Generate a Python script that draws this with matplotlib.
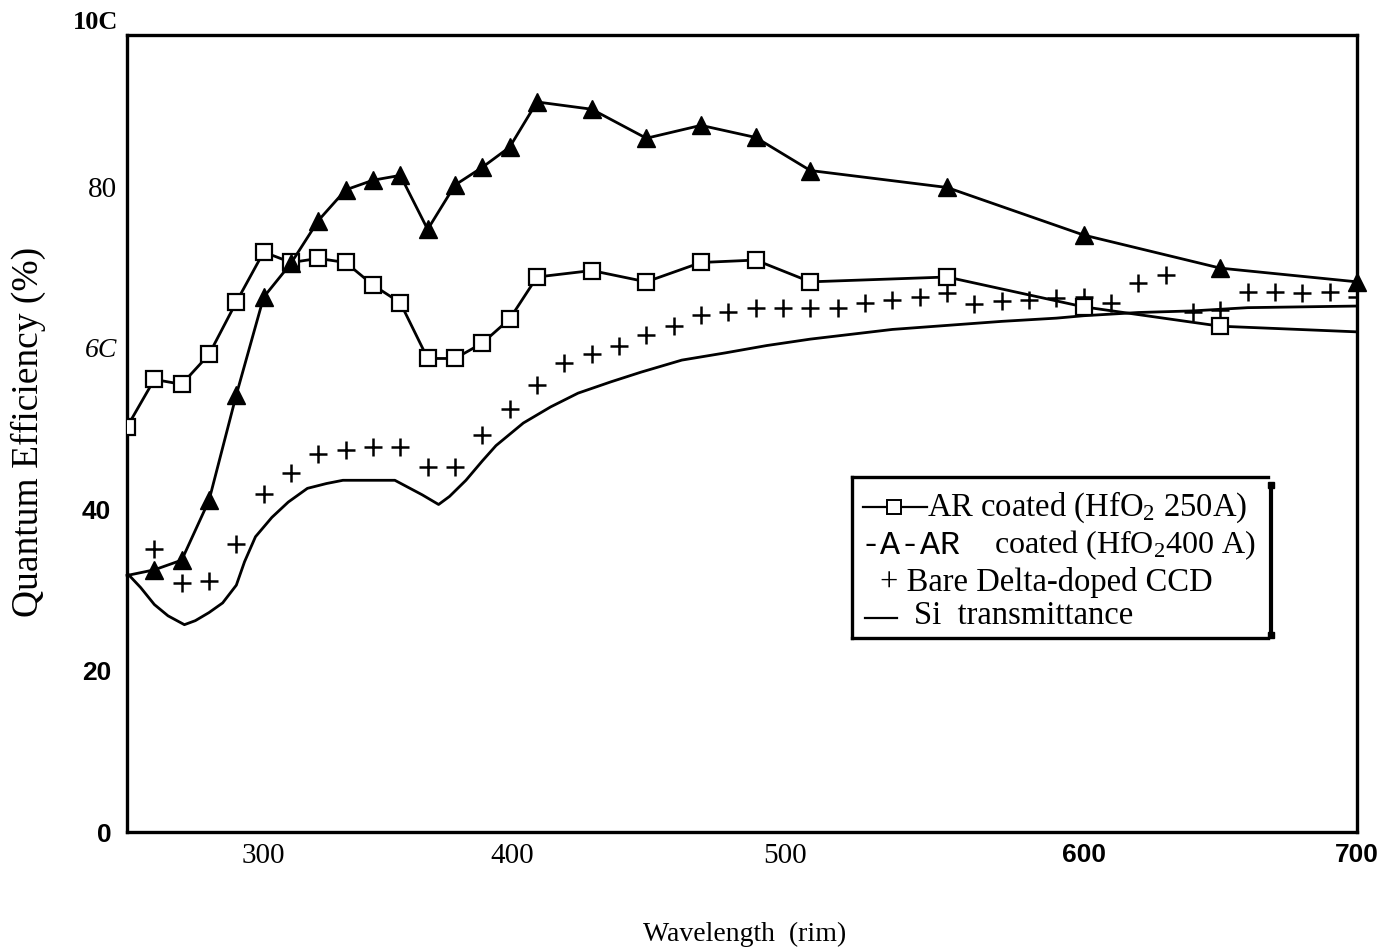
import matplotlib
matplotlib.use("Agg")
import matplotlib.pyplot as plt
import matplotlib.transforms as mtransforms
from matplotlib.lines import Line2D
from matplotlib.font_manager import FontProperties

# ---------------- data ----------------
wl_ar250 = [250, 260, 270, 280, 290, 300, 310, 320, 330, 340, 350, 360, 370, 380, 390,
            400, 420, 440, 460, 480, 500, 550, 600, 650, 700]
qe_ar250 = [50.2, 56.1, 55.5, 59.2, 65.7, 71.9, 70.6, 71.1, 70.6, 67.8, 65.6, 58.7, 58.7, 60.6, 63.6,
            68.8, 69.6, 68.2, 70.6, 70.9, 68.2, 68.8, 65.1, 62.7, 62.0]

wl_ar400 = [250, 260, 270, 280, 290, 300, 310, 320, 330, 340, 350, 360, 370, 380, 390,
            400, 420, 440, 460, 480, 500, 550, 600, 650, 700]
qe_ar400 = [31.8, 32.5, 33.7, 41.1, 54.2, 66.3, 70.5, 75.8, 79.6, 80.8, 81.4, 74.7, 80.2, 82.4, 84.9,
            90.5, 89.6, 86.0, 87.6, 86.1, 82.0, 79.9, 74.0, 69.9, 68.2]

wl_bare = [260, 270, 280, 290, 300, 310, 320, 330, 340, 350,
           360, 370, 380, 390, 400, 410, 420, 430, 440, 450,
           460, 470, 480, 490, 500, 510, 520, 530, 540, 550,
           560, 570, 580, 590, 600, 610, 620, 630, 640, 650,
           660, 670, 680, 690, 700]
qe_bare = [35.1, 30.9, 31.1, 35.7, 41.9, 44.5, 46.8, 47.3, 47.7, 47.7,
           45.3, 45.3, 49.2, 52.4, 55.4, 58.2, 59.2, 60.2, 61.6, 62.7,
           64.1, 64.4, 64.9, 64.9, 64.9, 64.9, 65.6, 65.9, 66.3, 66.8,
           65.5, 65.8, 66.0, 66.2, 66.3, 65.6, 68.0, 69.0, 64.4, 64.7,
           66.9, 66.9, 66.8, 66.9, 66.3]

wl_si = [250, 255, 260, 265, 271, 275, 280, 285, 290, 293, 297, 303, 309, 316, 323, 329,
         340, 348, 353, 358, 364, 368, 374, 380, 385, 395, 405, 415, 427, 438, 453, 469,
         484, 500, 515, 530, 550, 570, 590, 600, 620, 640, 660, 680, 700]
qe_si = [32.1, 30.3, 28.2, 26.8, 25.7, 26.2, 27.2, 28.4, 30.6, 33.5, 36.6, 39.0, 40.9, 42.6, 43.2, 43.6,
         43.6, 43.6, 42.7, 41.8, 40.6, 41.6, 43.6, 46.0, 47.9, 50.7, 52.7, 54.4, 55.8, 57.0, 58.5, 59.4,
         60.3, 61.1, 61.7, 62.3, 62.8, 63.3, 63.7, 64.0, 64.4, 64.6, 65.0, 65.1, 65.2]

xtick_vals = [300, 400, 500, 600, 700]
xtick_labels = ["300", "400", "500", "600", "700"]
ytick_vals = [0, 20, 40, 60, 80]
ytick_labels = ["0", "20", "40", "6C", "80"]
ytop_label = "10C"

legend_labels = ["AR coated (HfO$_2$ 250A)", "-A-AR", "coated (HfO$_2$400 A)",
                 "+ Bare Delta-doped CCD", "Si  transmittance"]

# ---------------- style ----------------
plt.rcParams['font.family'] = ['Liberation Serif', 'DejaVu Serif']
plt.rcParams['mathtext.fontset'] = 'custom'
plt.rcParams['mathtext.rm'] = 'Liberation Serif'
plt.rcParams['mathtext.default'] = 'regular'

W, H = 1379, 951
fig = plt.figure(figsize=(W / 100, H / 100), dpi=100)
fig.patch.set_facecolor('white')

def F(px, py):
    return (px / W, 1 - py / H)

ax = fig.add_axes([127 / W, 1 - 832 / H, (1357 - 127) / W, (832 - 35) / H])
ax.set_xlim(250, 700)
ax.set_ylim(0, 98.8)

# series
ax.plot(wl_si, qe_si, color='black', lw=2.0, zorder=2)
ax.plot(wl_bare, qe_bare, linestyle='none', marker='+', markersize=13,
        markeredgewidth=1.8, color='black', zorder=3)
ax.plot(wl_ar250, qe_ar250, color='black', lw=2.0, marker='s', markersize=11,
        markerfacecolor='white', markeredgecolor='black', markeredgewidth=1.6,
        markevery=list(range(0, len(wl_ar250) - 1)), zorder=4)
ax.plot(wl_ar400, qe_ar400, color='black', lw=2.0, marker='^', markersize=13,
        markerfacecolor='black', markeredgecolor='black',
        markevery=list(range(1, len(wl_ar400))), zorder=5, clip_on=False)

for s in ax.spines.values():
    s.set_linewidth(2.4)
    s.set_color('black')

# ticks
ax.tick_params(axis='both', length=0)
ax.tick_params(axis='x', pad=8)
ax.tick_params(axis='y', pad=7)
ax.set_xticks(xtick_vals, xtick_labels)
ax.set_yticks(ytick_vals, ytick_labels)

narrow_bold = dict(family=['Liberation Sans Narrow', 'Liberation Sans'], weight='bold', size=19)
for lab, txt in zip(ax.get_xticklabels(), xtick_labels):
    if txt in ("600", "700"):
        lab.set_fontproperties(FontProperties(**narrow_bold))
    else:
        lab.set_fontproperties(FontProperties(family='Liberation Serif', size=21))
    if txt in ("400", "500"):
        lab.set_transform(lab.get_transform() +
                          mtransforms.ScaledTranslation(-25 / 100, 0, fig.dpi_scale_trans))

for lab, txt in zip(ax.get_yticklabels(), ytick_labels):
    if txt in ("0", "20", "40"):
        lab.set_fontproperties(FontProperties(**narrow_bold))
        lab.set_transform(lab.get_transform() +
                          mtransforms.ScaledTranslation(-6 / 100, 0, fig.dpi_scale_trans))
    elif txt == "6C":
        lab.set_fontproperties(FontProperties(family='Liberation Serif', style='italic', size=20))
    else:
        lab.set_fontproperties(FontProperties(family='Liberation Serif', size=21))

trans_y = mtransforms.blended_transform_factory(ax.transAxes, ax.transData)
ax.text(-0.007, 100.4, ytop_label, transform=trans_y, ha='right', va='center',
        fontsize=19, fontweight='bold', family='Liberation Serif', clip_on=False)

# axis titles
fig.text(*F(28, 432), "Quantum Efficiency (%)", rotation=90, ha='center', va='center',
         fontsize=27, family='Liberation Serif')
fig.text(*F(745, 934), "Wavelength  (rim)", ha='center', va='center',
         fontsize=20, family='Liberation Serif')

# ---------------- legend (hand drawn box) ----------------
def fline(xs, ys, **kw):
    fx = [x / W for x in xs]
    fy = [1 - y / H for y in ys]
    fig.add_artist(Line2D(fx, fy, transform=fig.transFigure, **kw))

fline([852, 1268], [477, 477], color='black', lw=2.4)
fline([852, 852], [477, 638], color='black', lw=2.4)
fline([852, 1268], [638, 638], color='black', lw=2.4)
fline([1271, 1271], [485, 635], color='black', lw=3.0, marker='s', markersize=5,
      markevery=[0, 1])

LFS = 23.5
# row 1
fline([863, 927], [507, 507], color='black', lw=1.6)
fline([894], [507], color='black', marker='s', markersize=9.5, markerfacecolor='white',
      markeredgewidth=1.4, linestyle='none')
fig.text(*F(927, 507), legend_labels[0], ha='left', va='center', fontsize=LFS,
         family='Liberation Serif')
# row 2
fig.text(*F(861, 545), legend_labels[1], ha='left', va='center', fontsize=24,
         family='Liberation Mono')
fig.text(*F(994, 545), legend_labels[2], ha='left', va='center', fontsize=23,
         family='Liberation Serif')
# row 3
fig.text(*F(880, 583), legend_labels[3], ha='left', va='center', fontsize=LFS,
         family='Liberation Serif')
# row 4
fline([865, 897], [618, 618], color='black', lw=1.6)
fig.text(*F(914, 616), legend_labels[4], ha='left', va='center', fontsize=LFS,
         family='Liberation Serif')

fig.savefig("out.png", dpi=100, facecolor='white')
